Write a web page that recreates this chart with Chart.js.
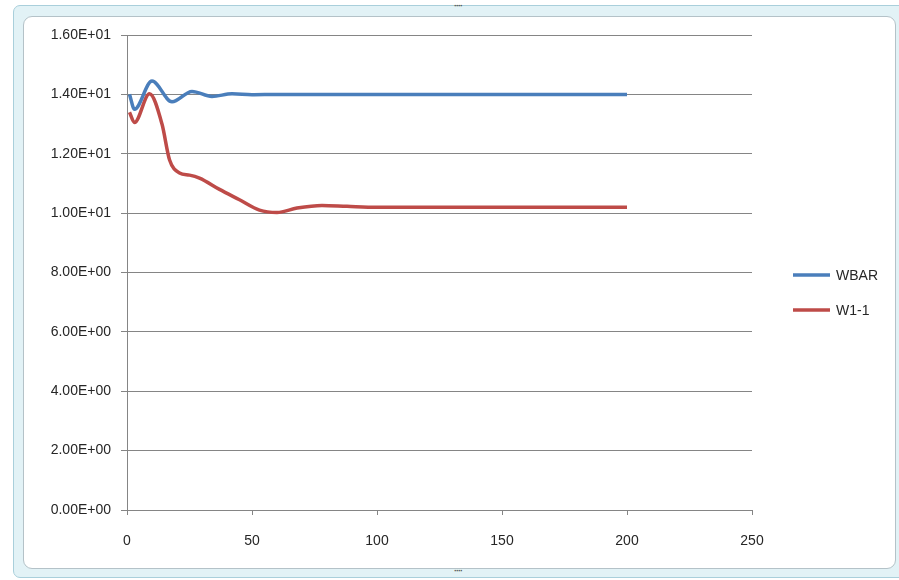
<!DOCTYPE html>
<html>
<head>
<meta charset="utf-8">
<script src="https://cdn.jsdelivr.net/npm/chart.js@4"></script>
<style>
  html, body { margin:0; padding:0; background:#ffffff; width:899px; height:580px; overflow:hidden; }
  #outer { position:absolute; left:13px; top:5px; width:900px; height:571px; background:#e2f2f6; border:1px solid #a9cfdb; border-radius:7px; }
  #inner { position:absolute; left:23px; top:16px; width:871px; height:551px; background:#ffffff; border:1px solid #b4c2c8; border-radius:9px; }
  canvas { position:absolute; left:0; top:0; }
  .dots { position:absolute; font:bold 9px "Liberation Sans"; color:#555; letter-spacing:-1px; }
</style>
</head>
<body>
<div id="outer"></div>
<div id="inner"></div>
<div class="dots" style="left:454px;top:1px;">····</div>
<div class="dots" style="left:454px;top:566px;">····</div>
<canvas id="c" width="899" height="580"></canvas>
<script>
const seriesNames = ["WBAR", "W1-1"];
const wbarX = [1, 3, 10, 18, 26, 34, 42, 50, 60, 80, 100, 150, 200];
const wbarY = [14.0, 13.5, 14.45, 13.75, 14.1, 13.93, 14.02, 13.99, 14.0, 14.0, 14.0, 14.0, 14.0];
const w11X = [1, 3, 9, 14, 17, 21, 25, 29, 37, 45, 53, 60, 68, 78, 88, 100, 120, 150, 200];
const w11Y = [13.4, 13.05, 14.02, 13.0, 11.8, 11.35, 11.28, 11.18, 10.8, 10.45, 10.1, 10.02, 10.17, 10.26, 10.23, 10.2, 10.2, 10.2, 10.2];
const yTickLabels = ["0.00E+00","2.00E+00","4.00E+00","6.00E+00","8.00E+00","1.00E+01","1.20E+01","1.40E+01","1.60E+01"];
const xTickLabels = ["0","50","100","150","200","250"];
const colors = ["#4a7ebb", "#be4b48"];

function pts(xs, ys) { return xs.map((x, i) => ({x: x, y: ys[i]})); }

const FONT = {family: "Liberation Sans", size: 14};
const TEXT = "#262626";

const legendPlugin = {
  id: 'customLegend',
  afterDraw(chart) {
    const ctx = chart.ctx;
    ctx.save();
    chart.data.datasets.forEach((ds, i) => {
      const y = 275 + i * 35;
      ctx.strokeStyle = ds.borderColor;
      ctx.lineWidth = 3.5;
      ctx.lineCap = 'butt';
      ctx.beginPath();
      ctx.moveTo(793, y);
      ctx.lineTo(830, y);
      ctx.stroke();
      ctx.fillStyle = TEXT;
      ctx.font = FONT.size + "px " + FONT.family;
      ctx.textBaseline = 'middle';
      ctx.textAlign = 'left';
      ctx.fillText(ds.label, 836, y + 1);
    });
    ctx.restore();
  }
};

new Chart(document.getElementById('c'), {
  type: 'scatter',
  data: {
    datasets: [
      { label: seriesNames[0], data: pts(wbarX, wbarY), borderColor: colors[0], backgroundColor: colors[0],
        showLine: true, borderWidth: 3.5, pointRadius: 0, cubicInterpolationMode: 'monotone' },
      { label: seriesNames[1], data: pts(w11X, w11Y), borderColor: colors[1], backgroundColor: colors[1],
        showLine: true, borderWidth: 3.5, pointRadius: 0, cubicInterpolationMode: 'monotone' }
    ]
  },
  options: {
    responsive: false,
    maintainAspectRatio: false,
    animation: false,
    layout: { padding: { left: 20, right: 147, top: 35, bottom: 10 } },
    plugins: { legend: { display: false }, tooltip: { enabled: false } },
    scales: {
      x: {
        type: 'linear', min: 0, max: 250,
        ticks: { stepSize: 50, color: TEXT, font: FONT, padding: 18, maxRotation: 0,
                 callback: (v, i) => xTickLabels[i] },
        grid: { display: true, drawOnChartArea: false, drawTicks: true, tickLength: 5, color: '#858585' },
        border: { display: true, color: '#858585', width: 1 },
        afterFit: (s) => { s.height = 60; }
      },
      y: {
        type: 'linear', min: 0, max: 16,
        ticks: { stepSize: 2, color: TEXT, font: FONT, padding: 10,
                 callback: (v, i) => yTickLabels[i] },
        grid: { color: '#858585', lineWidth: 1, drawTicks: true, tickLength: 6 },
        border: { display: true, color: '#858585', width: 1 },
        afterFit: (s) => { s.width = 107; }
      }
    }
  },
  plugins: [legendPlugin]
});
</script>
</body>
</html>
